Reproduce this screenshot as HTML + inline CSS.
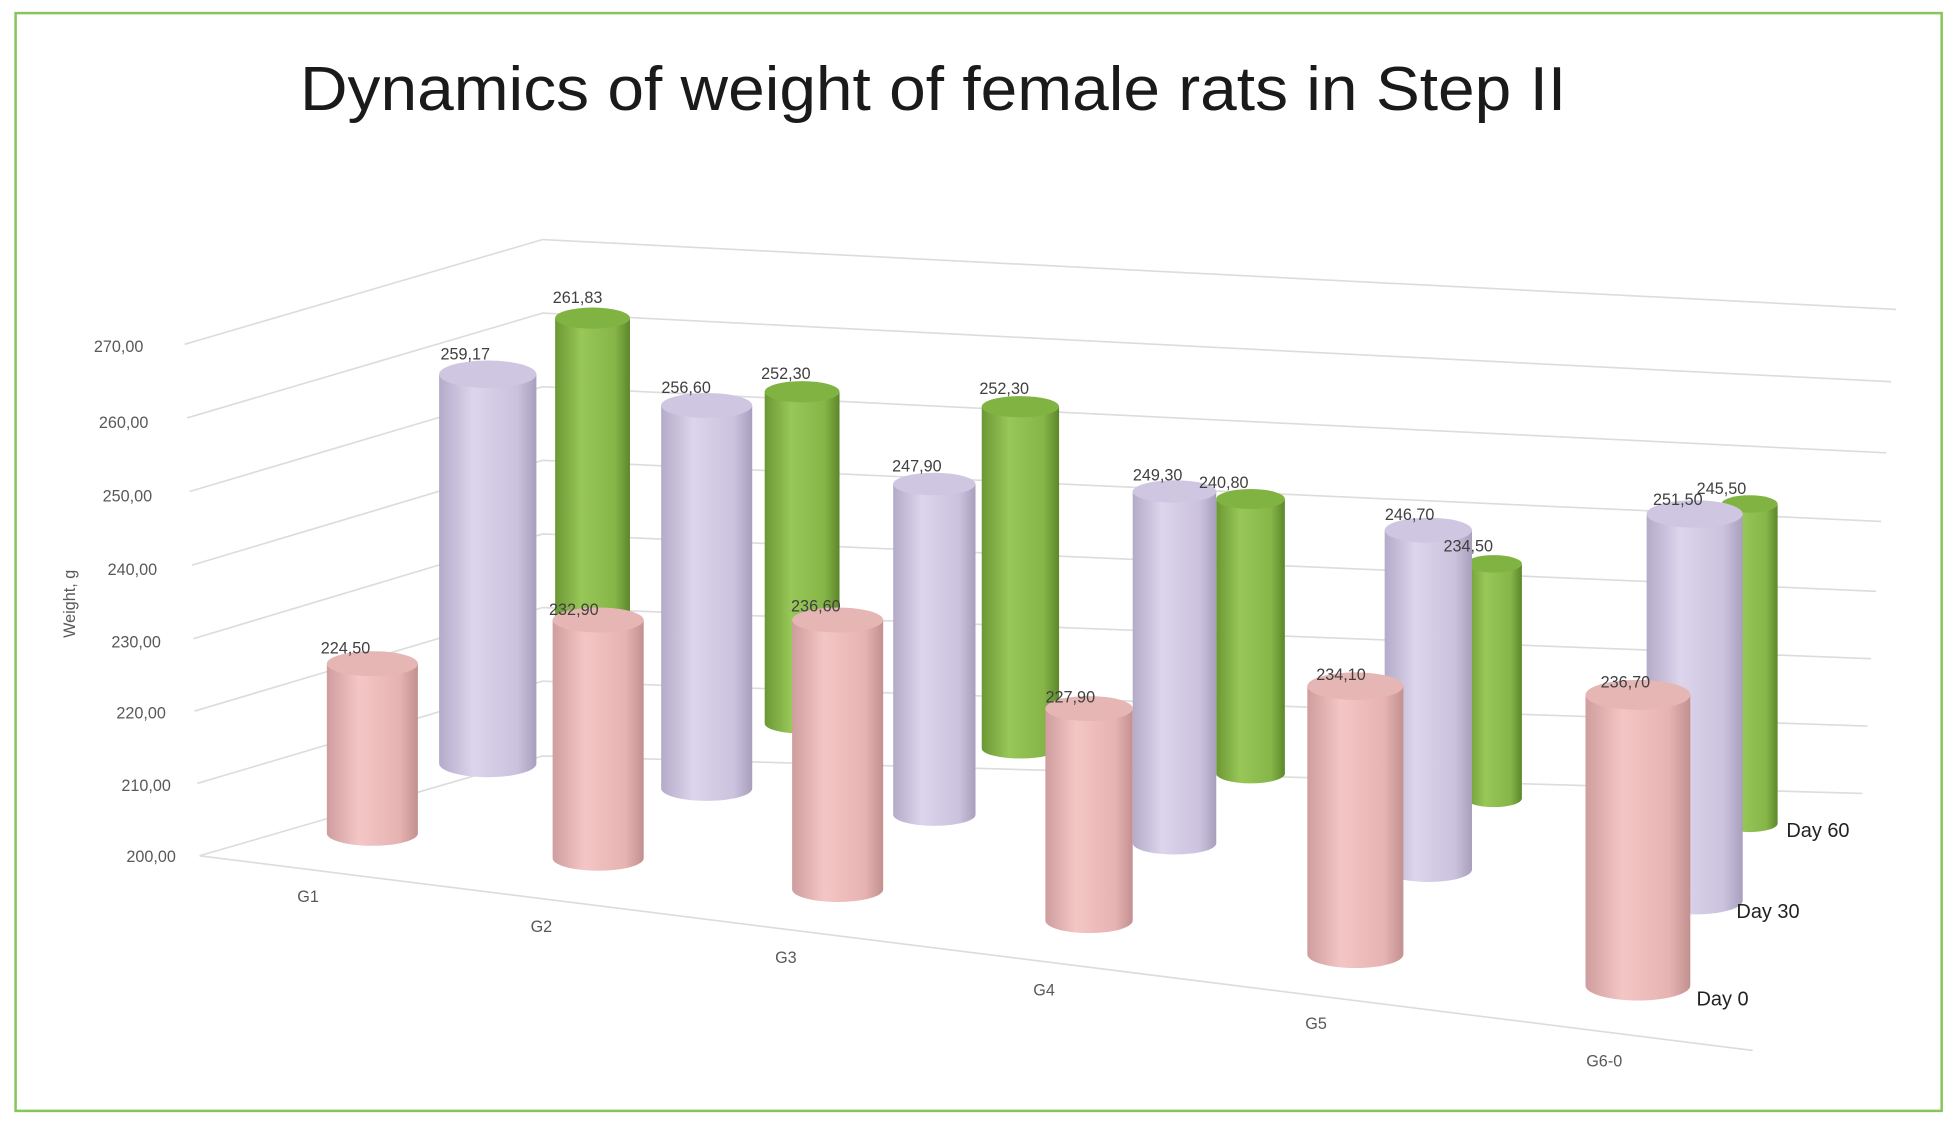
<!DOCTYPE html>
<html><head><meta charset="utf-8"><style>
html,body{margin:0;padding:0;background:#fff;}
svg{display:block;}
text{font-family:"Liberation Sans",sans-serif;}
</style></head><body>
<svg width="1956" height="1122" viewBox="0 0 1568 899.4" preserveAspectRatio="none">
<defs>
<linearGradient id="gp" x1="0" x2="1" y1="0" y2="0"><stop offset="0" stop-color="#cf9d9d"/><stop offset="0.35" stop-color="#f3c6c5"/><stop offset="0.8" stop-color="#e6b3b2"/><stop offset="1" stop-color="#c39090"/></linearGradient>
<linearGradient id="gl" x1="0" x2="1" y1="0" y2="0"><stop offset="0" stop-color="#b4abc9"/><stop offset="0.35" stop-color="#dcd5ec"/><stop offset="0.8" stop-color="#cbc2de"/><stop offset="1" stop-color="#a79fbc"/></linearGradient>
<linearGradient id="gg" x1="0" x2="1" y1="0" y2="0"><stop offset="0" stop-color="#6c9834"/><stop offset="0.35" stop-color="#98c758"/><stop offset="0.8" stop-color="#86b548"/><stop offset="1" stop-color="#5c872a"/></linearGradient>
</defs>
<rect x="0" y="0" width="1568" height="900" fill="#fff"/>
<rect x="12.5" y="10.5" width="1544" height="880" fill="none" stroke="#86c55a" stroke-width="2"/>
<text x="748" y="88" font-size="50" fill="#1a1a1a" text-anchor="middle" textLength="1015" lengthAdjust="spacingAndGlyphs">Dynamics of weight of female rats in Step II</text>

<g stroke="#dcdcdc" stroke-width="1.3" fill="none">
<path d="M148 276 L435 192 L1520 248"/>
<path d="M150 335 L435 251 L1516 306"/>
<path d="M152 394 L435 310 L1512 363"/>
<path d="M154 453 L435 369 L1508 418"/>
<path d="M155 512 L435 428 L1504 474"/>
<path d="M156 570 L435 487 L1500 528"/>
<path d="M158 628 L435 546 L1497 582"/>
<path d="M160 686 L435 606 L1493 636"/>
<path d="M160 686 L1405 842"/>
</g>

<g font-size="13" fill="#595959">
<text x="115" y="282" text-anchor="end">270,00</text>
<text x="119" y="343" text-anchor="end">260,00</text>
<text x="122" y="402" text-anchor="end">250,00</text>
<text x="126" y="461" text-anchor="end">240,00</text>
<text x="129" y="519" text-anchor="end">230,00</text>
<text x="133" y="576" text-anchor="end">220,00</text>
<text x="137" y="634" text-anchor="end">210,00</text>
<text x="141" y="691" text-anchor="end">200,00</text>
<text transform="translate(60,484) rotate(-90)" text-anchor="middle" font-size="13">Weight, g</text>
<text x="247" y="723" text-anchor="middle">G1</text>
<text x="434" y="747" text-anchor="middle">G2</text>
<text x="630" y="772" text-anchor="middle">G3</text>
<text x="837" y="798" text-anchor="middle">G4</text>
<text x="1055" y="825" text-anchor="middle">G5</text>
<text x="1286" y="855" text-anchor="middle">G6-0</text>
</g>

<!-- Day 60 -->
<g>
<path d="M445 255 V560 A30 8 0 0 0 505 560 V255 Z" fill="url(#gg)"/><ellipse cx="475" cy="255" rx="30" ry="8.5" fill="#80b342"/>
<path d="M613 314 V580 A30 8 0 0 0 673 580 V314 Z" fill="url(#gg)"/><ellipse cx="643" cy="314" rx="30" ry="8.5" fill="#80b342"/>
<path d="M787 326 V600 A31 8 0 0 0 849 600 V326 Z" fill="url(#gg)"/><ellipse cx="818" cy="326" rx="31" ry="8.5" fill="#80b342"/>
<path d="M975 400 V620 A27.5 8 0 0 0 1030 620 V400 Z" fill="url(#gg)"/><ellipse cx="1002.5" cy="400" rx="27.5" ry="8" fill="#80b342"/>
<path d="M1175 452 V640 A22.5 7 0 0 0 1220 640 V452 Z" fill="url(#gg)"/><ellipse cx="1197.5" cy="452" rx="22.5" ry="7" fill="#80b342"/>
<path d="M1380 404 V660 A22.5 7 0 0 0 1425 660 V404 Z" fill="url(#gg)"/><ellipse cx="1402.5" cy="404" rx="22.5" ry="7" fill="#80b342"/>
</g>

<!-- Day 30 -->
<g>
<path d="M352 300 V612 A39 11 0 0 0 430 612 V300 Z" fill="url(#gl)"/><ellipse cx="391" cy="300" rx="39" ry="11" fill="#cfc7e1"/>
<path d="M530 325 V632 A36.5 10 0 0 0 603 632 V325 Z" fill="url(#gl)"/><ellipse cx="566.5" cy="325" rx="36.5" ry="10" fill="#cfc7e1"/>
<path d="M716 388 V653 A33 9 0 0 0 782 653 V388 Z" fill="url(#gl)"/><ellipse cx="749" cy="388" rx="33" ry="9" fill="#cfc7e1"/>
<path d="M908 394 V676 A33.5 9 0 0 0 975 676 V394 Z" fill="url(#gl)"/><ellipse cx="941.5" cy="394" rx="33.5" ry="9" fill="#cfc7e1"/>
<path d="M1110 425 V697 A35 10 0 0 0 1180 697 V425 Z" fill="url(#gl)"/><ellipse cx="1145" cy="425" rx="35" ry="10" fill="#cfc7e1"/>
<path d="M1320 412 V722 A38.5 11 0 0 0 1397 722 V412 Z" fill="url(#gl)"/><ellipse cx="1358.5" cy="412" rx="38.5" ry="11" fill="#cfc7e1"/>
</g>

<!-- Day 0 -->
<g>
<path d="M262 532 V668 A36.5 10 0 0 0 335 668 V532 Z" fill="url(#gp)"/><ellipse cx="298.5" cy="532" rx="36.5" ry="10" fill="#e6b6b4"/>
<path d="M443 497 V688 A36.5 10 0 0 0 516 688 V497 Z" fill="url(#gp)"/><ellipse cx="479.5" cy="497" rx="36.5" ry="10" fill="#e6b6b4"/>
<path d="M635 497 V713 A36.5 10 0 0 0 708 713 V497 Z" fill="url(#gp)"/><ellipse cx="671.5" cy="497" rx="36.5" ry="10" fill="#e6b6b4"/>
<path d="M838 568 V738 A35 10 0 0 0 908 738 V568 Z" fill="url(#gp)"/><ellipse cx="873" cy="568" rx="35" ry="10" fill="#e6b6b4"/>
<path d="M1048 550 V765 A38.5 11 0 0 0 1125 765 V550 Z" fill="url(#gp)"/><ellipse cx="1086.5" cy="550" rx="38.5" ry="11" fill="#e6b6b4"/>
<path d="M1271 557 V790 A42 12 0 0 0 1355 790 V557 Z" fill="url(#gp)"/><ellipse cx="1313" cy="557" rx="42" ry="12" fill="#e6b6b4"/>
</g>

<g font-size="13" fill="#404040" text-anchor="middle">
<text x="463" y="243">261,83</text><text x="630" y="304">252,30</text><text x="805" y="316">252,30</text>
<text x="981" y="391">240,80</text><text x="1177" y="442">234,50</text><text x="1380" y="396">245,50</text>
<text x="373" y="288">259,17</text><text x="550" y="315">256,60</text><text x="735" y="378">247,90</text>
<text x="928" y="385">249,30</text><text x="1130" y="417">246,70</text><text x="1345" y="405">251,50</text>
<text x="277" y="524">224,50</text><text x="460" y="493">232,90</text><text x="654" y="490">236,60</text>
<text x="858" y="563">227,90</text><text x="1075" y="545">234,10</text><text x="1303" y="551">236,70</text>
</g>

<g font-size="16" fill="#222">
<text x="1432" y="671">Day 60</text>
<text x="1392" y="736">Day 30</text>
<text x="1360" y="806">Day 0</text>
</g>
</svg>
</body></html>
